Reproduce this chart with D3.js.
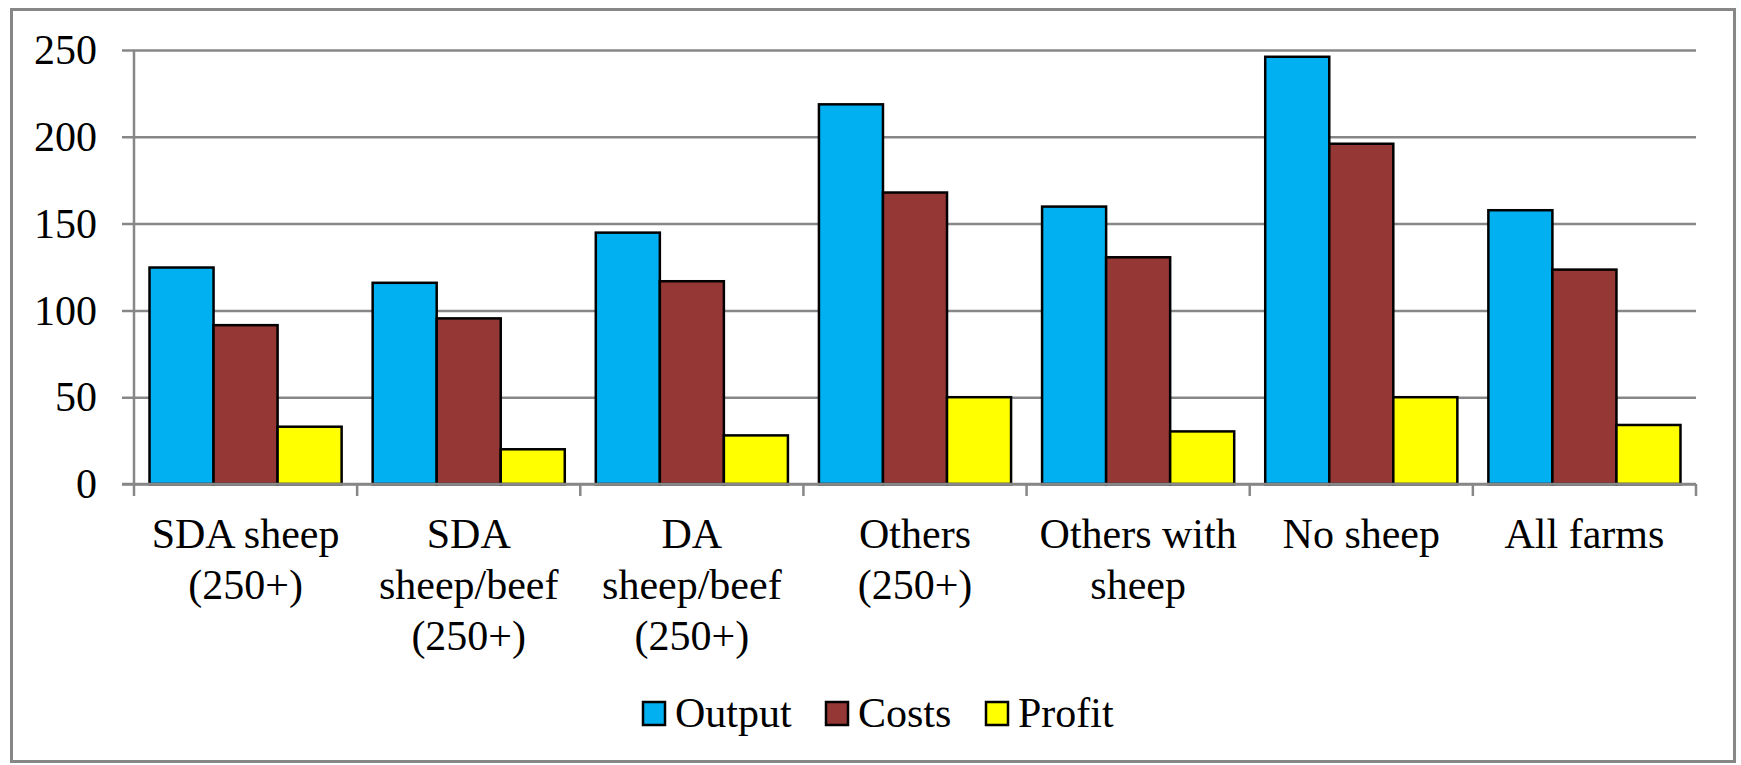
<!DOCTYPE html>
<html>
<head>
<meta charset="utf-8">
<script src="https://cdn.jsdelivr.net/npm/d3@7"></script>
<style>
  html, body { margin: 0; padding: 0; background: #fff; }
  svg { display: block; }
  text { font-family: "Liberation Serif", "Times New Roman", serif; fill: #000; }
</style>
</head>
<body>
<svg id="chart" width="1741" height="765"></svg>
<script>
// Farm groups shown along the x axis
const categories = [
  "SDA sheep (250+)",
  "SDA sheep/beef (250+)",
  "DA sheep/beef (250+)",
  "Others (250+)",
  "Others with sheep",
  "No sheep",
  "All farms"
];
// How each category label wraps onto lines
const categoryLines = [
  ["SDA sheep", "(250+)"],
  ["SDA", "sheep/beef", "(250+)"],
  ["DA", "sheep/beef", "(250+)"],
  ["Others", "(250+)"],
  ["Others with", "sheep"],
  ["No sheep"],
  ["All farms"]
];
const seriesNames = ["Output", "Costs", "Profit"];
const output = [124.7, 115.9, 144.8, 218.7, 159.8, 246.1, 157.7];
const costs  = [91.5, 95.4, 116.8, 167.9, 130.6, 196.0, 123.5];
const profit = [33.0, 20.0, 28.0, 50.0, 30.3, 50.0, 34.0];
const yTicks = [0, 50, 100, 150, 200, 250];

const seriesColors = ["#00B0F0", "#953735", "#FFFF00"];
const seriesValues = [output, costs, profit];

const svg = d3.select("#chart");

// outer frame
svg.append("rect")
  .attr("x", 11.5).attr("y", 9.5)
  .attr("width", 1723).attr("height", 752)
  .attr("fill", "#fff")
  .attr("stroke", "#878787").attr("stroke-width", 3);

const plot = { left: 134, right: 1696, top: 50, bottom: 484 };

const y = d3.scaleLinear().domain([0, 250]).range([plot.bottom, plot.top]);
const x0 = d3.scaleBand().domain(categories).range([plot.left, plot.right]).paddingInner(0).paddingOuter(0);
const bw = x0.bandwidth();
const groupPad = bw * 0.0695;
const x1 = d3.scaleBand().domain(seriesNames).range([groupPad, bw - groupPad]).padding(0);

const gridColor = "#878787";

// horizontal gridlines with short ticks to the left of the axis
const yAxis = d3.axisLeft(y)
  .tickValues(yTicks)
  .tickSize(-(plot.right - plot.left))
  .tickSizeOuter(0)
  .tickFormat("");
const gy = svg.append("g").attr("transform", `translate(${plot.left},0)`).call(yAxis);
gy.select(".domain").remove();
gy.selectAll(".tick line")
  .attr("x1", -12)
  .attr("stroke", gridColor).attr("stroke-width", 2.5);

// y tick labels
svg.append("g").selectAll("text")
  .data(yTicks).join("text")
  .attr("x", 97)
  .attr("y", d => y(d))
  .attr("dy", "0.34em")
  .attr("text-anchor", "end")
  .attr("font-size", 42)
  .text(d => d);

// bars
const groups = svg.append("g").selectAll("g")
  .data(categories).join("g")
  .attr("transform", d => `translate(${x0(d)},0)`);

groups.selectAll("rect")
  .data((d, i) => seriesNames.map((s, k) => ({ s, k, v: seriesValues[k][i] })))
  .join("rect")
  .attr("x", d => x1(d.s))
  .attr("y", d => y(d.v))
  .attr("width", x1.bandwidth())
  .attr("height", d => y(0) - y(d.v))
  .attr("fill", d => seriesColors[d.k])
  .attr("stroke", "#000").attr("stroke-width", 2.5);

// y axis line
svg.append("line")
  .attr("x1", plot.left).attr("x2", plot.left)
  .attr("y1", plot.top).attr("y2", plot.bottom)
  .attr("stroke", gridColor).attr("stroke-width", 2.5);

// x axis baseline and category boundary ticks
svg.append("line")
  .attr("x1", plot.left - 12).attr("x2", plot.right)
  .attr("y1", plot.bottom).attr("y2", plot.bottom)
  .attr("stroke", gridColor).attr("stroke-width", 2.5);
const bounds = categories.map(c => x0(c)).concat([plot.right]);
svg.append("g").selectAll("line")
  .data(bounds).join("line")
  .attr("x1", d => d).attr("x2", d => d)
  .attr("y1", plot.bottom).attr("y2", plot.bottom + 12)
  .attr("stroke", gridColor).attr("stroke-width", 2.5);

// category labels
const lab = svg.append("g").selectAll("text")
  .data(categories).join("text")
  .attr("text-anchor", "middle")
  .attr("font-size", 42)
  .attr("transform", d => `translate(${x0(d) + bw / 2},0)`);
lab.each(function (d, i) {
  const t = d3.select(this);
  categoryLines[i].forEach((line, j) => {
    t.append("tspan").attr("x", 0).attr("y", 548 + j * 51).text(line);
  });
});

// legend
const legendX = [643, 826, 986];
const leg = svg.append("g").selectAll("g")
  .data(seriesNames).join("g")
  .attr("transform", (d, i) => `translate(${legendX[i]},0)`);
leg.append("rect")
  .attr("x", 0).attr("y", 702)
  .attr("width", 22).attr("height", 23)
  .attr("fill", (d, i) => seriesColors[i])
  .attr("stroke", "#000").attr("stroke-width", 2.5);
leg.append("text")
  .attr("x", 32).attr("y", 727)
  .attr("font-size", 42)
  .text(d => d);
</script>
</body>
</html>
